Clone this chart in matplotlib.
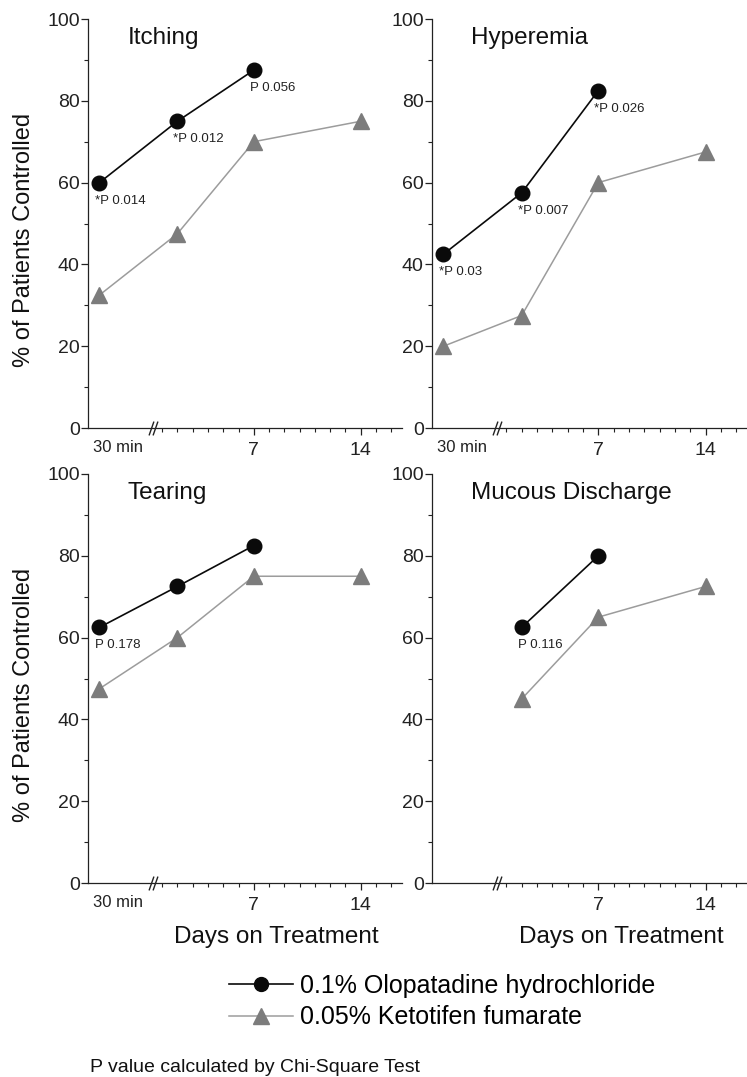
import numpy as np
import matplotlib
matplotlib.use("Agg")
import matplotlib.pyplot as plt
import matplotlib.path as mpath
import matplotlib.ticker as mticker
from matplotlib.lines import Line2D

plt.rcParams["font.family"] = ["Liberation Sans", "DejaVu Sans"]

# x positions: 30 min sits left of the axis break, then days 2, 7, 14
TIME_X = [-3.1, 2, 7, 14]

TITLES = ["Itching", "Hyperemia", "Tearing", "Mucous Discharge"]

OLO_ITCH = [60, 75, 87.5]
KET_ITCH = [32.5, 47.5, 70, 75]
OLO_HYP = [42.5, 57.5, 82.5]
KET_HYP = [20, 27.5, 60, 67.5]
OLO_TEAR = [62.5, 72.5, 82.5]
KET_TEAR = [47.5, 60, 75, 75]
OLO_MUC = [np.nan, 62.5, 80]
KET_MUC = [np.nan, 45, 65, 72.5]

P_ITCH = ["*P 0.014", "*P 0.012", "P 0.056"]
P_HYP = ["*P 0.03", "*P 0.007", "*P 0.026"]
P_TEAR = ["P 0.178", "", ""]
P_MUC = ["", "P 0.116", ""]

LEGEND_LABELS = ["0.1% Olopatadine hydrochloride", "0.05% Ketotifen fumarate"]

BLACK = "#0a0a0a"
GRAY_MK = "#7c7c7c"
GRAY_LN = "#9c9c9c"
AXC = "#222222"

W, H = 747, 1077
fig = plt.figure(figsize=(W / 100, H / 100), dpi=100)


def px_axes(left, right, top, bottom):
    return fig.add_axes([left / W, 1 - bottom / H, (right - left) / W, (bottom - top) / H])


BREAK = mpath.Path([(-0.35, -1.0), (0.35, 1.0)], [mpath.Path.MOVETO, mpath.Path.LINETO])


def draw_panel(ax, title, olo, ket, plabels, ylabel):
    ax.plot(TIME_X, ket, color=GRAY_LN, lw=1.1, marker="^", ms=11,
            mfc=GRAY_MK, mec=GRAY_MK, zorder=2, clip_on=False)
    ax.plot(TIME_X[:3], olo, color=BLACK, lw=1.2, marker="o", ms=10.5,
            mfc=BLACK, mec=BLACK, zorder=3, clip_on=False)
    for x, y, lab in zip(TIME_X, olo, plabels):
        if lab and not np.isnan(y):
            ax.annotate(lab, (x, y), xytext=(-3, -13), textcoords="offset points",
                        ha="left", va="center", fontsize=9.5, color="#222")

    ax.set_xlim(-3.85, 16.7)
    ax.set_ylim(0, 100)
    for s in ("top", "right"):
        ax.spines[s].set_visible(False)
    for s in ("left", "bottom"):
        ax.spines[s].set_linewidth(0.9)
        ax.spines[s].set_color(AXC)

    ax.yaxis.set_major_locator(mticker.MultipleLocator(20))
    ax.yaxis.set_minor_locator(mticker.MultipleLocator(10))
    ax.xaxis.set_major_locator(mticker.FixedLocator([7, 14]))
    ax.xaxis.set_minor_locator(mticker.FixedLocator([d for d in range(1, 17) if d not in (7, 14)]))
    ax.tick_params(which="major", direction="out", length=5, width=0.9, color=AXC,
                   labelsize=14, labelcolor="#222")
    ax.tick_params(which="minor", direction="out", length=3, width=0.8, color=AXC)
    ax.tick_params(axis="y", pad=1)
    ax.tick_params(axis="x", pad=5)

    # axis break
    for bx in (0.25, 0.55):
        ax.plot([bx], [0], marker=BREAK, ms=10, mew=1.0, color=AXC, clip_on=False, zorder=4)

    if not np.isnan(olo[0]):
        ax.annotate("30 min", (TIME_X[0], 0), xycoords=("data", "axes fraction"),
                    xytext=(-5, -14), textcoords="offset points",
                    ha="left", va="center", fontsize=12, color="#222")

    ax.text(0.125, 0.94, title, transform=ax.transAxes, fontsize=17.5,
            ha="left", va="baseline", color="#111")

    if ylabel:
        ax.set_ylabel("% of Patients Controlled", fontsize=17, color="#111")
        ax.yaxis.label.set_verticalalignment("center")
        ax.yaxis.set_label_coords(-0.205, 0.46)


ax1 = px_axes(88, 402, 19, 428)
ax2 = px_axes(432, 747, 19, 428)
ax3 = px_axes(88, 402, 474, 883)
ax4 = px_axes(432, 747, 474, 883)

draw_panel(ax1, TITLES[0], OLO_ITCH, KET_ITCH, P_ITCH, True)
draw_panel(ax2, TITLES[1], OLO_HYP, KET_HYP, P_HYP, False)
draw_panel(ax3, TITLES[2], OLO_TEAR, KET_TEAR, P_TEAR, True)
draw_panel(ax4, TITLES[3], OLO_MUC, KET_MUC, P_MUC, False)

for ax in (ax3, ax4):
    ax.set_xlabel("Days on Treatment", fontsize=17.5, color="#111")
    ax.xaxis.label.set_verticalalignment("center")
    ax.xaxis.set_label_coords(0.6, -0.132)

handles = [
    Line2D([], [], color=BLACK, lw=1.2, marker="o", ms=10, mfc=BLACK, mec=BLACK),
    Line2D([], [], color=GRAY_LN, lw=1.1, marker="^", ms=11, mfc=GRAY_MK, mec=GRAY_MK),
]
fig.legend(handles, LEGEND_LABELS, loc="center left", bbox_to_anchor=(229 / W, 1 - 1001.5 / H),
           frameon=False, fontsize=18, handlelength=2.55, handletextpad=0.3,
           labelspacing=0.3, borderpad=0, borderaxespad=0, numpoints=1)

fig.text(90 / W, 1 - 1068 / H, "P value calculated by Chi-Square Test",
         fontsize=14, ha="left", va="center", color="#111")

fig.savefig("out.png", dpi=100, facecolor="white")
